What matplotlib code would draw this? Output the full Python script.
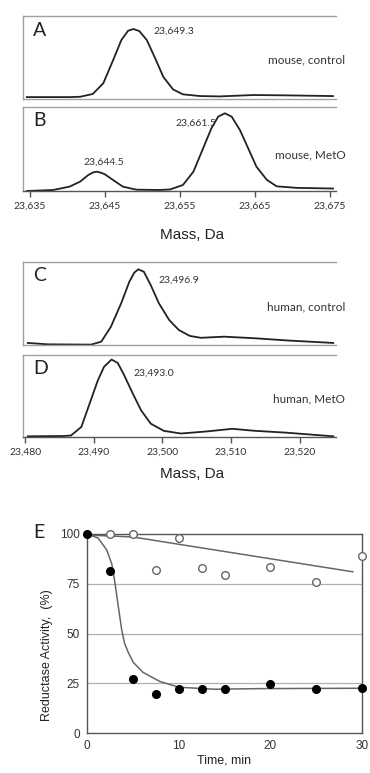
import numpy as np
import matplotlib
matplotlib.use("Agg")
import matplotlib.pyplot as plt

# --- spectra, relative intensity (% of tallest peak)
mass_a = [23634.6, 23640.3, 23641.7, 23643.4, 23644.8, 23646.1, 23647.2, 23648.1, 23648.8,
          23649.6, 23650.6, 23651.7, 23652.8, 23654.1, 23655.4, 23657.7, 23660.3, 23664.8,
          23669.2, 23675.4]
int_a = [2, 2, 2.5, 6.5, 22, 55, 84, 97.5, 100, 97, 84, 58, 31, 13, 6, 3.5, 3, 5, 4.5, 3.5]

mass_b = [23634.6, 23638.1, 23640.3, 23641.7, 23642.8, 23643.4, 23643.9, 23644.5, 23645.0,
          23646.1, 23647.4, 23649.2, 23652.3, 23653.7, 23655.4, 23656.8, 23658.1, 23659.2,
          23660.1, 23661.0, 23661.9, 23663.0, 23664.1, 23665.2, 23666.6, 23667.9, 23670.6,
          23675.4]
int_b = [0, 1.3, 5.6, 12, 20.6, 23.8, 24.9, 23.5, 21.5, 14.2, 5.6, 1.7, 1.3, 2, 7.7, 24.8,
         55, 80.7, 95.7, 100, 95.7, 78.5, 55, 31.3, 14.2, 6, 4, 3.2]

mass_c = [23480.4, 23483.3, 23489.6, 23491.1, 23492.5, 23494.0, 23495.2, 23495.9, 23496.5,
          23497.3, 23498.3, 23499.5, 23501.0, 23502.4, 23504.0, 23505.6, 23509.0, 23513.3,
          23518.2, 23524.9]
int_c = [2.7, 0.9, 0.5, 4.4, 24, 55, 83.7, 95.5, 100, 96.8, 79.3, 55, 33, 19.8, 12, 9.5,
         11, 9, 6, 2.7]

mass_d = [23480.4, 23485.7, 23486.7, 23488.2, 23489.4, 23490.6, 23491.5, 23492.6, 23493.5,
          23494.4, 23495.7, 23496.9, 23498.3, 23500.2, 23502.7, 23506.5, 23510.2, 23513.3,
          23518.2, 23524.9]
int_d = [0.9, 1.3, 2, 13, 43, 73, 90.5, 100, 95.6, 80.5, 56, 34.5, 17.3, 8, 4.5, 7.2, 10.6,
         8.1, 5.5, 0.9]

mouse_ticks = [23635, 23645, 23655, 23665, 23675]
mouse_labels = ["23,635", "23,645", "23,655", "23,665", "23,675"]
human_ticks = [23480, 23490, 23500, 23510, 23520]
human_labels = ["23,480", "23,490", "23,500", "23,510", "23,520"]

# --- reductase activity vs time
time_open = [2.5, 5, 7.5, 10, 12.5, 15, 20, 25, 30]
act_open = [100, 100, 82, 98, 83, 79.5, 83.5, 76, 89]
time_fill = [0, 2.5, 5, 7.5, 10, 12.5, 15, 20, 25, 30]
act_fill = [100, 81.5, 27, 19.5, 22, 22, 22, 24.5, 22, 22.5]

fit_open_t = [0, 5, 29]
fit_open_y = [99.5, 98.5, 81]
fit_fill_t = [0, 1.2, 2.15, 2.7, 3.05, 3.4, 3.78, 4.1, 4.5, 5.05, 6.1, 7.9, 10, 13.9, 18.9, 30]
fit_fill_y = [100, 98, 92, 85, 75.5, 64, 52, 45, 40.5, 35.5, 30.5, 26, 23, 22, 22.3, 22.5]

W, H = 370, 773
fig = plt.figure(figsize=(W / 100, H / 100), dpi=100)

def box(l, r, t, b):
    return [l / W, 1 - b / H, (r - l) / W, (b - t) / H]

annot = "Lato"
frame = "#a0a0a0"

# rect, x, y, xlim, ylim top, letter, peak labels, condition label, ticks
spec = [
    (box(23, 336, 16, 98.5), mass_a, int_a, (23634.1, 23675.8), 118.7, "A",
     [("23,649.3", 153, 31)], ("mouse, control", 268, 60), None),
    (box(23, 336, 107, 191), mass_b, int_b, (23634.1, 23675.8), 108.1, "B",
     [("23,661.5", 175, 123), ("23,644.5", 83, 162)], ("mouse, MetO", 275, 155),
     (mouse_ticks, mouse_labels)),
    (box(23, 336, 261.7, 345), mass_c, int_c, (23479.7, 23525.3), 110, "C",
     [("23,496.9", 158, 280)], ("human, control", 267, 307), None),
    (box(23, 336, 354.5, 437), mass_d, int_d, (23479.7, 23525.3), 106.5, "D",
     [("23,493.0", 133, 373)], ("human, MetO", 273, 399),
     (human_ticks, human_labels)),
]

for rect, mx, iy, xl, ytop, letter, peaks, cond, ticks in spec:
    ax = fig.add_axes(rect)
    ax.plot(mx, iy, color="#222222", lw=1.3, solid_joinstyle="round")
    ax.set_xlim(*xl)
    ax.set_ylim(0, ytop)
    ax.set_yticks([])
    ax.spines["right"].set_visible(False)
    for s in ["left", "top", "bottom"]:
        ax.spines[s].set_color(frame)
        ax.spines[s].set_linewidth(1.0)
    if ticks is None:
        ax.set_xticks([])
    else:
        ax.spines["bottom"].set_color("#555555")
        ax.set_xticks(ticks[0])
        ax.set_xticklabels(ticks[1], fontfamily=annot, fontsize=7.5, color="#333333")
        ax.tick_params(axis="x", direction="out", length=4, width=1, color="#555555", pad=4)
    top_px = (1 - rect[1] - rect[3]) * H
    fig.text(33 / W, 1 - (top_px + 14) / H, letter, fontfamily=annot, fontsize=14,
             ha="left", va="center", color="#222222")
    for txt, px, py in peaks:
        fig.text(px / W, 1 - py / H, txt, fontfamily=annot, fontsize=7.5,
                 ha="left", va="center", color="#333333")
    fig.text(cond[1] / W, 1 - cond[2] / H, cond[0], fontfamily=annot, fontsize=8.5,
             ha="left", va="center", color="#333333")

fig.text(192 / W, 1 - 235 / H, "Mass, Da", fontfamily="Liberation Sans", fontsize=11,
         ha="center", va="center", color="#222222")
fig.text(192 / W, 1 - 474 / H, "Mass, Da", fontfamily="Liberation Sans", fontsize=11,
         ha="center", va="center", color="#222222")

# --- panel E
ax = fig.add_axes(box(87, 362, 534, 733))
ax.set_xlim(0, 30)
ax.set_ylim(0, 100)
for g in [25, 50, 75]:
    ax.axhline(g, color="#b0b0b0", lw=0.9, zorder=0)
ax.plot(fit_open_t, fit_open_y, color="#666666", lw=1.1, zorder=2)
ax.plot(fit_fill_t, fit_fill_y, color="#666666", lw=1.1, zorder=2)
ax.plot(time_open, act_open, "o", ms=5.5, mfc="white", mec="#666666", mew=1.0,
        zorder=3, clip_on=False)
ax.plot(time_fill, act_fill, "o", ms=5.5, mfc="black", mec="black", zorder=4, clip_on=False)
for s in ax.spines.values():
    s.set_color("#555555")
    s.set_linewidth(1.0)
ax.set_xticks([0, 10, 20, 30])
ax.set_yticks([0, 25, 50, 75, 100])
ax.tick_params(length=0, labelsize=8.5, colors="#333333", pad=5)
for lab in ax.get_xticklabels() + ax.get_yticklabels():
    lab.set_fontfamily("Liberation Sans")
ax.set_xlabel("Time, min", fontfamily="Liberation Sans", fontsize=9, color="#222222",
              labelpad=2)
ax.set_ylabel("Reductase Activity,  (%)", fontfamily="Liberation Sans", fontsize=9,
              color="#222222")
ax.yaxis.set_label_coords(-0.125, 0.39)
fig.text(39 / W, 1 - 532 / H, "E", fontfamily=annot, fontsize=14, ha="center",
         va="center", color="#222222")

fig.savefig("out.png", dpi=100)
